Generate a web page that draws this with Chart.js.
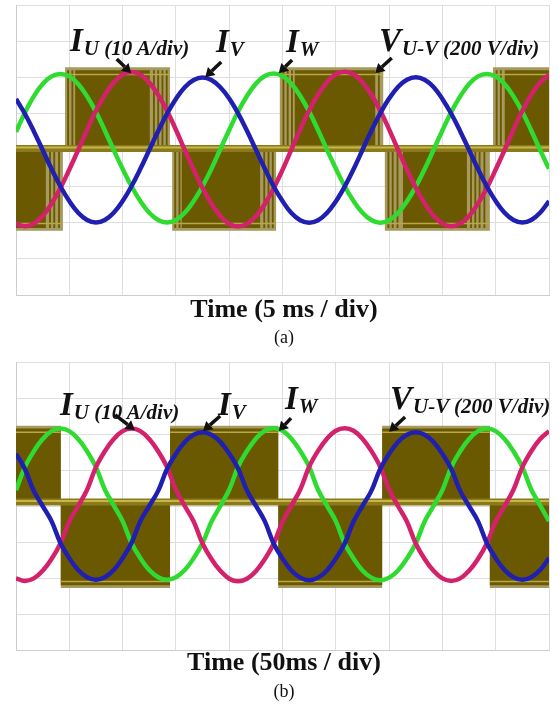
<!DOCTYPE html>
<html>
<head>
<meta charset="utf-8">
<script src="https://cdn.jsdelivr.net/npm/chart.js@4.4.1/dist/chart.umd.min.js"></script>
<style>
  html, body { margin: 0; padding: 0; background: #fff; }
  #page { position: relative; width: 559px; height: 709px; overflow: hidden; font-family: "Liberation Serif", "Times New Roman", serif; }
  canvas { position: absolute; left: 0; }
  #chartA { top: 0; }
  #chartB { top: 357px; }
  .lbl { position: absolute; font-weight: bold; font-style: italic; font-size: 33px; line-height: 33px; white-space: nowrap; color: #111; }
  .lbl .sub { font-size: 21px; position: relative; top: 4px; margin-left: 1px; }
  .cap { position: absolute; left: 0; width: 568px; text-align: center; white-space: nowrap; color: #111; }
  .time { font-weight: bold; font-size: 26px; line-height: 26px; }
  .panel { font-size: 18px; line-height: 18px; }
</style>
</head>
<body>
<div id="page">
  <canvas id="chartA" width="559" height="300"></canvas>
  <canvas id="chartB" width="559" height="298"></canvas>

  <div class="lbl" style="left:70px;top:24px">I<span class="sub">U (10 A/div)</span></div>
  <div class="lbl" style="left:216px;top:25px">I<span class="sub">V</span></div>
  <div class="lbl" style="left:286px;top:25px">I<span class="sub">W</span></div>
  <div class="lbl" style="left:379px;top:24px">V<span class="sub">U-V (200 V/div)</span></div>
  <div class="cap time" style="top:296px">Time (5 ms / div)</div>
  <div class="cap panel" style="top:328px">(a)</div>

  <div class="lbl" style="left:60px;top:388px">I<span class="sub">U (10 A/div)</span></div>
  <div class="lbl" style="left:218px;top:388px">I<span class="sub">V</span></div>
  <div class="lbl" style="left:285px;top:382px">I<span class="sub">W</span></div>
  <div class="lbl" style="left:390px;top:382px">V<span class="sub">U-V (200 V/div)</span></div>
  <div class="cap time" style="top:649px">Time (50ms / div)</div>
  <div class="cap panel" style="top:682px">(b)</div>
</div>

<script>
// ---- data, in scope divisions (x: 0..10 div, y: -4..4 div) ----

// one sample every 1/6 div
const sampleStep = 1 / 6;

// (a) 5 ms/div : phase currents
const greenA = [
  0.50, 1.03, 1.48, 1.82, 2.03, 2.10, 2.03, 1.82, 1.48, 1.05, 0.54, 0.00,
  -0.52, -1.00, -1.41, -1.73, -1.93, -2.00, -1.93, -1.73, -1.41, -1.00, -0.52, 0.02,
  0.55, 1.06, 1.49, 1.83, 2.04, 2.11, 2.04, 1.83, 1.49, 1.06, 0.55, 0.01,
  -0.51, -1.00, -1.41, -1.73, -1.93, -2.01, -1.94, -1.74, -1.42, -1.01, -0.53, 0.00,
  0.54, 1.05, 1.48, 1.82, 2.03, 2.10, 2.03, 1.82, 1.48, 1.05, 0.54, 0.00, -0.52
];
const redA = [
  -2.03, -2.10, -2.03, -1.82, -1.48, -1.05, -0.54, 0.00, 0.56, 1.08, 1.52, 1.86,
  2.08, 2.15, 2.08, 1.86, 1.52, 1.08, 0.56, 0.00, -0.54, -1.05, -1.48, -1.82,
  -2.04, -2.11, -2.04, -1.83, -1.49, -1.06, -0.55, 0.01, 0.57, 1.09, 1.53, 1.87,
  2.09, 2.16, 2.09, 1.87, 1.53, 1.09, 0.57, 0.01, -0.53, -1.04, -1.47, -1.81,
  -2.03, -2.10, -2.03, -1.82, -1.48, -1.05, -0.54, 0.00, 0.56, 1.08, 1.52, 1.86, 2.08
];
const blueA = [
  1.41, 1.00, 0.52, 0.00, -0.52, -1.00, -1.41, -1.73, -1.93, -2.00, -1.93, -1.73,
  -1.41, -1.00, -0.52, 0.00, 0.52, 1.00, 1.41, 1.73, 1.93, 2.00, 1.93, 1.73,
  1.42, 1.01, 0.53, 0.01, -0.51, -1.00, -1.41, -1.74, -1.94, -2.01, -1.94, -1.74,
  -1.42, -1.01, -0.53, 0.00, 0.53, 1.01, 1.42, 1.74, 1.94, 2.01, 1.94, 1.74,
  1.41, 1.00, 0.52, 0.00, -0.52, -1.00, -1.41, -1.73, -1.93, -2.00, -1.93, -1.73, -1.41
];

// (a) line voltage V_U-V : PWM blocks
const aBase = 0.04;
const aBlockStart = [0, 0.92, 2.93, 4.95, 6.92, 8.95];
const aBlockEnd   = [0.88, 2.89, 4.88, 6.89, 8.89, 10];
const aBlockLevel = [-2.15, 2.2, -2.15, 2.2, -2.15, 2.2];
const aSolidStart = [0, 1.11, 3.11, 5.23, 7.26, 9.17];
const aSolidEnd   = [0.56, 2.51, 4.58, 6.74, 8.46, 10];
const aStripes = [0.62, 0.70, 0.79, 0.96, 1.04, 2.57, 2.65, 2.73, 2.81, 2.97, 3.05,
  4.64, 4.72, 4.80, 5.00, 5.08, 5.16, 6.79, 6.97, 7.05, 7.14, 8.52, 8.60, 8.68, 8.77, 9.00, 9.08];

// (b) 50 ms/div : phase currents
const greenB = [
  0.44, 1.08, 1.52, 1.86, 2.08, 2.15, 2.08, 1.86, 1.52, 1.08, 0.46, 0.02,
  -0.42, -1.03, -1.45, -1.78, -1.98, -2.05, -1.98, -1.78, -1.45, -1.03, -0.44, 0.00,
  0.45, 1.09, 1.53, 1.87, 2.09, 2.16, 2.09, 1.87, 1.53, 1.09, 0.45, 0.01,
  -0.42, -1.04, -1.46, -1.79, -1.99, -2.06, -1.99, -1.79, -1.46, -1.04, -0.43, 0.00,
  0.44, 1.08, 1.52, 1.86, 2.08, 2.15, 2.08, 1.86, 1.52, 1.08, 0.46, 0.02, -0.42
];
const redB = [
  -2.01, -2.08, -2.01, -1.80, -1.47, -1.04, -0.43, 0.00, 0.45, 1.08, 1.52, 1.86,
  2.08, 2.15, 2.08, 1.86, 1.52, 1.08, 0.45, 0.00, -0.43, -1.04, -1.47, -1.80,
  -2.02, -2.09, -2.02, -1.81, -1.48, -1.05, -0.44, 0.01, 0.46, 1.09, 1.53, 1.87,
  2.09, 2.16, 2.09, 1.87, 1.53, 1.09, 0.46, 0.00, -0.43, -1.04, -1.47, -1.80,
  -2.01, -2.08, -2.01, -1.80, -1.47, -1.04, -0.43, 0.00, 0.45, 1.08, 1.52, 1.86, 2.08
];
const blueB = [
  1.45, 1.03, 0.42, 0.00, -0.42, -1.03, -1.45, -1.78, -1.98, -2.05, -1.98, -1.78,
  -1.45, -1.03, -0.42, 0.00, 0.42, 1.03, 1.45, 1.78, 1.98, 2.05, 1.98, 1.78,
  1.46, 1.04, 0.43, 0.01, -0.42, -1.04, -1.46, -1.79, -1.99, -2.06, -1.99, -1.79,
  -1.46, -1.04, -0.43, 0.00, 0.42, 1.03, 1.45, 1.78, 1.98, 2.05, 1.98, 1.78,
  1.45, 1.03, 0.42, 0.00, -0.42, -1.03, -1.45, -1.78, -1.98, -2.05, -1.98, -1.78, -1.45
];

// (b) line voltage V_U-V : blocks (switching too dense to resolve)
const bBase = 0.11;
const bBlockStart = [0, 0.84, 2.89, 4.92, 6.87, 8.89];
const bBlockEnd   = [0.84, 2.89, 4.92, 6.87, 8.89, 10];
const bBlockLevel = [2.15, -2.2, 2.15, -2.2, 2.15, -2.2];

// ---- styles ----
const OLIVE = '#6b5902';
const KHAKI = '#a69a5e';
const TRACE = '#b9a844';
const BAND = '#8a7a1c';
const BAND_HI = '#c6b748';
const GREEN = '#2fdb2f';
const RED = '#d3216b';
const BLUE = '#1f1fb2';
const fringe = 0.08;
const stripeW = 0.035;

// arrows: [tailX, tailY, headX, headY] in div units
const arrowsA = [[1.89, 2.51, 2.16, 2.12], [3.85, 2.43, 3.55, 2.01], [5.18, 2.48, 4.93, 2.12], [7.05, 2.54, 6.74, 2.12]];
const arrowsB = [[1.86, 2.53, 2.23, 2.11], [3.83, 2.50, 3.51, 2.08], [5.16, 2.44, 4.93, 2.08], [7.30, 2.47, 7.00, 2.06]];

// ---- helpers ----
function blockPath(segs, base) {
  const pts = [];
  segs.sort((p, q) => p[0] - q[0]).forEach(s => {
    pts.push({x: s[0], y: base}, {x: s[0], y: s[2]}, {x: s[1], y: s[2]}, {x: s[1], y: base});
  });
  return pts;
}

function tracePath(starts, ends, levels, inset) {
  const pts = [];
  starts.forEach((s, i) => {
    const lv = levels[i] - Math.sign(levels[i]) * inset;
    pts.push({x: s, y: lv}, {x: ends[i], y: lv}, {x: ends[i], y: null});
  });
  return pts;
}

function levelAt(t, starts, ends, levels) {
  for (let i = 0; i < starts.length; i++) {
    if (t >= starts[i] && t <= ends[i]) return levels[i];
  }
  return 0;
}

function currentSet(label, values, color, ord) {
  return {
    label: label,
    data: values.map((v, i) => ({x: i * sampleStep, y: v})),
    borderColor: color, borderWidth: 4.5, pointRadius: 0, tension: 0.4, fill: false, order: ord
  };
}

function bandSets(base) {
  return [
    {data: [{x: 0, y: base}, {x: 10, y: base}], borderColor: BAND, borderWidth: 7, pointRadius: 0, fill: false, order: 4},
    {data: [{x: 0, y: base + 0.03}, {x: 10, y: base + 0.03}], borderColor: BAND_HI, borderWidth: 2, pointRadius: 0, fill: false, order: 3.5}
  ];
}

function makeArrows(list) {
  return {
    id: 'arrows',
    afterDatasetsDraw(chart) {
      const {ctx, scales: {x, y}} = chart;
      ctx.save();
      ctx.strokeStyle = '#111';
      ctx.fillStyle = '#111';
      ctx.lineWidth = 3.5;
      list.forEach(a => {
        const x0 = x.getPixelForValue(a[0]), y0 = y.getPixelForValue(a[1]);
        const x1 = x.getPixelForValue(a[2]), y1 = y.getPixelForValue(a[3]);
        const ang = Math.atan2(y1 - y0, x1 - x0);
        const hl = 9, hw = 5.5;
        const bx = x1 - hl * Math.cos(ang), by = y1 - hl * Math.sin(ang);
        ctx.beginPath(); ctx.moveTo(x0, y0); ctx.lineTo(bx, by); ctx.stroke();
        ctx.beginPath();
        ctx.moveTo(x1, y1);
        ctx.lineTo(bx + hw * Math.sin(ang), by - hw * Math.cos(ang));
        ctx.lineTo(bx - hw * Math.sin(ang), by + hw * Math.cos(ang));
        ctx.closePath(); ctx.fill();
      });
      ctx.restore();
    }
  };
}

function panelOptions(padTop, padBottom) {
  const axis = {
    type: 'linear',
    ticks: {display: false, stepSize: 1},
    grid: {color: '#dedede', drawTicks: false},
    border: {color: '#cccccc'}
  };
  return {
    responsive: false, animation: false, events: [],
    layout: {padding: {left: 16, right: 10, top: padTop, bottom: padBottom}},
    plugins: {legend: {display: false}, tooltip: {enabled: false}},
    scales: {
      x: Object.assign({}, axis, {min: 0, max: 10}),
      y: Object.assign({}, axis, {min: -4, max: 4})
    }
  };
}

// ---- panel (a) ----
const aKhakiSegs = aBlockStart.map((s, i) => [s, aBlockEnd[i], aBlockLevel[i] + Math.sign(aBlockLevel[i]) * fringe]);
const aDarkSegs = aSolidStart.map((s, i) => [s, aSolidEnd[i], aBlockLevel[i]])
  .concat(aStripes.map(t => [t, t + stripeW, levelAt(t, aBlockStart, aBlockEnd, aBlockLevel)]));

new Chart(document.getElementById('chartA'), {
  type: 'line',
  data: {
    datasets: [
      {data: blockPath(aKhakiSegs, aBase), borderWidth: 0, pointRadius: 0, backgroundColor: KHAKI, fill: {value: aBase}, order: 7},
      {data: blockPath(aDarkSegs, aBase), borderWidth: 0, pointRadius: 0, backgroundColor: OLIVE, fill: {value: aBase}, order: 6},
      {data: tracePath(aBlockStart, aBlockEnd, aBlockLevel, 0.12), borderColor: TRACE, borderWidth: 1.5, pointRadius: 0, fill: false, order: 5},
      ...bandSets(aBase),
      currentSet('I_W', greenA, GREEN, 2),
      currentSet('I_U', redA, RED, 1),
      currentSet('I_V', blueA, BLUE, 0)
    ]
  },
  options: panelOptions(5, 5),
  plugins: [makeArrows(arrowsA)]
});

// ---- panel (b) ----
const bKhakiSegs = bBlockStart.map((s, i) => [s, bBlockEnd[i], bBlockLevel[i] + Math.sign(bBlockLevel[i]) * fringe]);
const bDarkSegs = bBlockStart.map((s, i) => [s, bBlockEnd[i], bBlockLevel[i]]);

new Chart(document.getElementById('chartB'), {
  type: 'line',
  data: {
    datasets: [
      {data: blockPath(bKhakiSegs, bBase), borderWidth: 0, pointRadius: 0, backgroundColor: KHAKI, fill: {value: bBase}, order: 7},
      {data: blockPath(bDarkSegs, bBase), borderWidth: 0, pointRadius: 0, backgroundColor: OLIVE, fill: {value: bBase}, order: 6},
      {data: tracePath(bBlockStart, bBlockEnd, bBlockLevel, 0.1), borderColor: TRACE, borderWidth: 1.5, pointRadius: 0, fill: false, order: 5},
      ...bandSets(bBase),
      currentSet('I_W', greenB, GREEN, 2),
      currentSet('I_U', redB, RED, 1),
      currentSet('I_V', blueB, BLUE, 0)
    ]
  },
  options: panelOptions(5, 5),
  plugins: [makeArrows(arrowsB)]
});
</script>
</body>
</html>
